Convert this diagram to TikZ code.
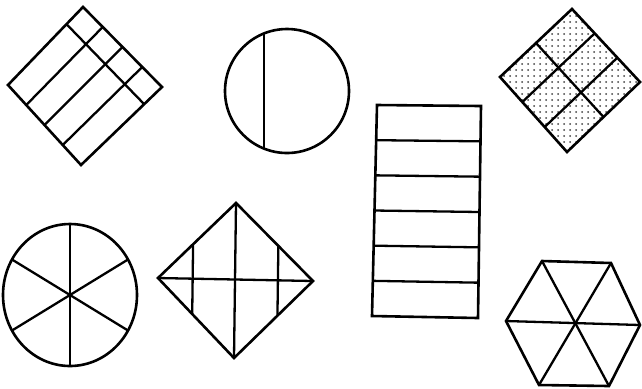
\documentclass[tikz,border=0pt]{standalone}
\usetikzlibrary{calc, patterns}
\begin{document}
\begin{tikzpicture}[
  x=0.5pt, y=-0.5pt,
  figline/.style={line width=1.3pt, line join=miter},
  divline/.style={line width=1.15pt},
  shaded/.style={pattern=dots, pattern color=black!75},
]
\useasboundingbox (0,0) rectangle (642,388);

% Quadrat mit Streifen (oben links)
\coordinate (sqL) at (8,85);
\coordinate (sqT) at (83,7);
\coordinate (sqR) at (162,87);
\coordinate (sqB) at (81,165);
\draw[figline] (sqL) -- (sqT) -- (sqR) -- (sqB) -- cycle;
\foreach \f in {0.25,0.5,0.75}
  \draw[divline] ($(sqL)!\f!(sqB)$) -- ($(sqT)!\f!(sqR)$);
\draw[divline] ($(sqT)!0.22!(sqL)$) -- ($(sqR)!0.22!(sqB)$);

% Kreis mit Sehne (oben Mitte)
\coordinate (kA) at (287,91);
\draw[figline] (kA) circle [radius=62];
\draw[divline] (264,33.4) -- (264,148.6);

% Rechteck mit sechs Streifen (Mitte)
\coordinate (reTL) at (377,105);
\coordinate (reTR) at (481,106);
\coordinate (reBR) at (478,318);
\coordinate (reBL) at (372,316);
\draw[figline] (reTL) -- (reTR) -- (reBR) -- (reBL) -- cycle;
\foreach \i in {1,...,5}
  \draw[divline] ($(reTL)!\i/6!(reBL)$) -- ($(reTR)!\i/6!(reBR)$);

% punktierte Raute (oben rechts)
\coordinate (raL) at (500,77);
\coordinate (raT) at (572,9);
\coordinate (raR) at (640,82);
\coordinate (raB) at (567,152);
\fill[shaded] (raL) -- (raT) -- (raR) -- (raB) -- cycle;
\draw[figline] (raL) -- (raT) -- (raR) -- (raB) -- cycle;
\foreach \f in {0.3333,0.6667}
  \draw[divline] ($(raT)!\f!(raR)$) -- ($(raL)!\f!(raB)$);
\draw[divline] ($(raL)!0.5!(raT)$) -- ($(raB)!0.5!(raR)$);

% Kreis in sechs Teilen (unten links)
\coordinate (kB) at (70,295);
\draw[figline] (kB) ellipse [x radius=67, y radius=71];
\draw[divline] (70,224) -- (70,366);
\draw[divline] (12,259.5) -- (128,330.5);
\draw[divline] (128,259.5) -- (12,330.5);

% Raute mit Diagonalen (unten Mitte)
\coordinate (rbL) at (158,278);
\coordinate (rbT) at (236,203);
\coordinate (rbR) at (313,281);
\coordinate (rbB) at (234,358);
\draw[figline] (rbL) -- (rbT) -- (rbR) -- (rbB) -- cycle;
\draw[divline] (rbL) -- (rbR);
\draw[divline] (rbT) -- (rbB);
\draw[divline] ($(rbL)!0.45!(rbT)$) -- ($(rbL)!0.45!(rbB)$);
\draw[divline] ($(rbR)!0.45!(rbT)$) -- ($(rbR)!0.45!(rbB)$);

% Sechseck (unten rechts)
\coordinate (seA) at (542,261);
\coordinate (seB) at (611,263);
\coordinate (seC) at (640,325);
\coordinate (seD) at (609,386);
\coordinate (seE) at (539,385);
\coordinate (seF) at (506,321);
\draw[figline] (seA) -- (seB) -- (seC) -- (seD) -- (seE) -- (seF) -- cycle;
\draw[divline] (seA) -- (seD);
\draw[divline] (seB) -- (seE);
\draw[divline] (seF) -- (seC);

\end{tikzpicture}
\end{document}
